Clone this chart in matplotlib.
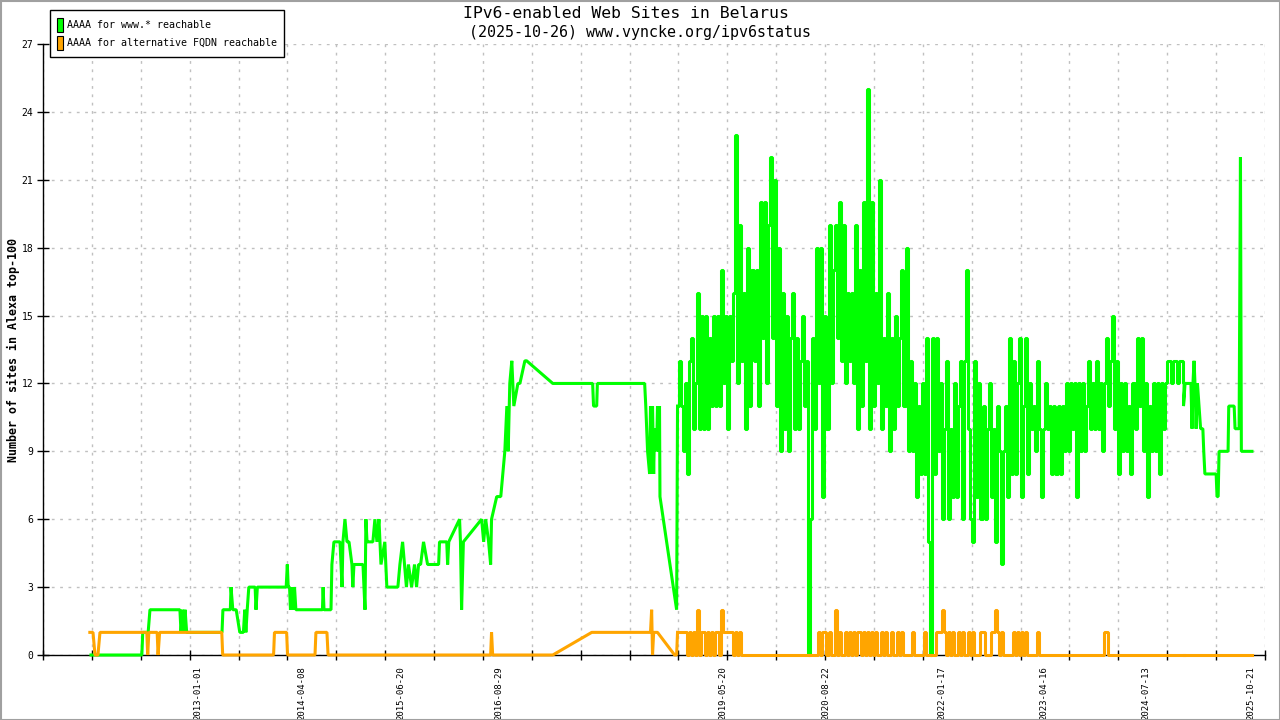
import numpy as np
import pandas as pd
import matplotlib
matplotlib.use('Agg')
import matplotlib.pyplot as plt
import matplotlib.dates as mdates
from matplotlib.patches import Rectangle

plt.rcParams['font.family'] = 'DejaVu Sans Mono'

# early part of "AAAA for www.*" series (irregular readings)
www_dates = [
    '2011-09-14', '2012-04-27', '2012-05-01', '2012-05-25', '2012-06-02',
    '2012-10-13', '2012-10-18', '2012-10-25', '2012-10-30', '2012-11-05', '2012-11-12', '2012-11-18',
    '2013-04-18', '2013-04-22', '2013-05-25', '2013-05-28', '2013-06-05', '2013-06-20', '2013-07-06', '2013-07-22', '2013-07-28', '2013-08-02', '2013-08-08', '2013-08-15',
    '2013-09-12', '2013-09-16', '2013-09-22', '2014-01-28', '2014-02-02', '2014-02-06', '2014-02-12', '2014-02-16', '2014-02-22', '2014-03-01', '2014-03-06', '2014-03-12',
    '2014-07-08', '2014-07-11', '2014-07-15', '2014-08-15', '2014-08-19', '2014-08-28',
    '2014-09-24', '2014-10-03', '2014-10-07', '2014-10-16', '2014-10-25', '2014-11-03', '2014-11-16', '2014-11-20', '2014-11-25',
    '2015-01-04', '2015-01-13', '2015-01-17', '2015-01-22', '2015-01-26', '2015-02-17', '2015-02-26', '2015-03-07', '2015-03-16', '2015-03-25', '2015-04-11', '2015-04-20',
    '2015-06-08', '2015-06-17', '2015-06-29', '2015-07-16', '2015-07-25', '2015-08-08', '2015-08-21', '2015-08-30', '2015-09-08', '2015-09-17', '2015-09-30', '2015-10-18',
    '2015-12-06', '2015-12-10', '2016-01-11', '2016-01-15', '2016-01-20', '2016-03-08', '2016-03-12', '2016-03-17', '2016-03-25',
    '2016-06-14', '2016-06-23', '2016-07-02', '2016-07-15', '2016-07-24', '2016-07-28', '2016-08-20', '2016-09-07', '2016-09-16', '2016-09-25', '2016-10-04', '2016-10-10', '2016-10-17', '2016-10-26', '2016-11-04', '2016-11-22', '2016-12-01', '2016-12-23', '2016-12-31',
    '2017-04-26', '2017-10-20', '2017-10-24', '2017-11-07', '2017-11-10',
    '2018-06-08', '2018-06-13', '2018-06-17', '2018-06-21', '2018-06-30', '2018-07-04', '2018-07-09', '2018-07-13', '2018-07-18', '2018-07-22', '2018-07-31', '2018-08-04', '2018-08-09', '2018-08-13', '2018-08-15', '2018-10-28']
www_vals = [
    0, 0, 1, 1, 2,
    2, 1, 2, 1, 2, 1, 1,
    1, 2, 2, 3, 2, 2, 1, 1, 2, 1, 2, 3,
    3, 2, 3, 3, 4, 3, 3, 2, 3, 2, 3, 2,
    2, 3, 2, 2, 4, 5,
    5, 3, 5, 6, 5, 5, 4, 3, 4,
    4, 2, 6, 5, 5, 5, 6, 5, 6, 4, 5, 3,
    3, 4, 5, 3, 4, 3, 4, 3, 4, 4, 5, 4,
    4, 5, 5, 4, 5, 6, 5, 2, 5,
    6, 5, 6, 5, 4, 6, 7, 7, 8, 9, 11, 9, 12, 13, 11, 12, 12, 13, 13,
    12, 12, 11, 11, 12,
    12, 11, 10, 9, 8, 11, 8, 11, 8, 10, 9, 11, 9, 11, 7, 2]

# dense part: one reading every 9 days from this date
dense_start = '2018-11-01'
dense_step = '9D'
www_dense = [
    11, 13, 11, 9, 12, 8, 13, 14, 10, 12,
    16, 10, 15, 10, 15, 10, 14, 11, 15, 11,
    15, 11, 17, 12, 15, 10, 15, 13, 16, 23,
    12, 19, 13, 16, 10, 18, 11, 17, 13, 17,
    11, 20, 14, 20, 12, 19, 22, 14, 21, 11,
    18, 9, 16, 10, 15, 9, 14, 16, 10, 14,
    10, 13, 15, 11, 13, 0, 6, 14, 10, 18,
    12, 18, 7, 15, 10, 19, 12, 17, 19, 14,
    20, 13, 19, 12, 16, 13, 16, 12, 19, 10,
    17, 11, 20, 13, 25, 10, 20, 11, 16, 12,
    21, 10, 14, 11, 16, 9, 14, 10, 15, 11,
    14, 17, 11, 18, 9, 13, 9, 12, 7, 11,
    8, 12, 8, 14, 5, 0, 14, 8, 14, 9,
    12, 6, 10, 13, 6, 10, 7, 12, 7, 11,
    13, 6, 13, 17, 10, 6, 5, 13, 7, 12,
    6, 11, 6, 10, 12, 7, 10, 5, 11, 9,
    4, 9, 11, 7, 14, 8, 13, 8, 12, 14,
    7, 11, 14, 8, 12, 10, 11, 9, 13, 10,
    7, 10, 12, 10, 11, 8, 11, 8, 11, 8,
    11, 9, 12, 9, 12, 10, 12, 7, 12, 9,
    12, 9, 11, 13, 10, 12, 10, 13, 10, 12,
    9, 12, 14, 11, 13, 15, 10, 13, 8, 12,
    9, 12, 9, 11, 8, 12, 10, 14, 11, 14,
    9, 12, 7, 11, 9, 12, 9, 12, 8, 12,
    10, 12, 13, 13, 12, 13, 13, 12, 13, 13,
    12]
nan = np.nan
fqdn_dense = [
    1, 1, 1, 1, 1, 0, 1, 0, 1, 0,
    2, 0, 1, 1, 0, 1, 0, 1, 0, 1,
    1, 0, 2, 1, 1, 1, 1, 1, 0, 1,
    0, 1, 0, 0, 0, 0, 0, 0, 0, 0,
    0, 0, 0, 0, 0, 0, 0, 0, 0, 0,
    0, 0, 0, 0, 0, 0, 0, 0, 0, 0,
    0, 0, 0, 0, 0, nan, 0, 0, 0, 0,
    1, 0, 1, 1, 0, 1, 0, 0, 2, 0,
    1, 0, 0, 1, 0, 1, 0, 1, 0, 1,
    1, 0, 1, 0, 1, 0, 1, 0, 1, 0,
    0, 1, 0, 1, 0, 0, 1, 0, 0, 1,
    0, 1, 0, 0, 0, 0, 1, 0, 0, 0,
    0, 0, 1, 0, 0, nan, 0, 0, 1, 1,
    1, 2, 1, 0, 1, 0, 1, 0, 0, 1,
    0, 1, 0, 0, 1, 0, 1, 0, 0, 0,
    1, 1, 0, 0, 0, 1, 1, 2, 1, 0,
    1, 0, 0, 0, 0, 0, 1, 0, 1, 0,
    1, 0, 1, 0, 0, 0, 0, 0, 1, 0] + [0] * 30 + [
    0, 1, 1, 0, 0, 0, 0, 0, 0, 0] + [0] * 31

# last months, step changes
www_tail_dates = ['2024-12-26', '2025-01-02', '2025-01-28', '2025-02-02', '2025-02-06', '2025-02-11', '2025-02-15',
                  '2025-02-20', '2025-02-26', '2025-03-05', '2025-03-12', '2025-03-22', '2025-03-26', '2025-03-31',
                  '2025-05-20', '2025-05-24', '2025-05-29', '2025-06-02', '2025-07-12', '2025-07-15', '2025-08-08',
                  '2025-08-12', '2025-08-30', '2025-09-02', '2025-09-05', '2025-09-09', '2025-10-26']
www_tail_vals = [11, 12, 12, 10, 12, 13, 12,
                 10, 12, 11, 10, 10, 9, 8,
                 8, 7, 7, 9, 9, 11, 11,
                 10, 10, 16, 22, 9, 9]

# early part of "AAAA for alternative FQDN" series
fqdn_dates = ['2011-09-09', '2011-09-23', '2011-10-02', '2011-10-15', '2011-10-24',
              '2012-05-19', '2012-05-23', '2012-05-28', '2012-07-04', '2012-07-08', '2012-07-15',
              '2013-04-17', '2013-04-21', '2013-12-03', '2013-12-07', '2014-01-30', '2014-02-03',
              '2014-06-05', '2014-06-09', '2014-07-28', '2014-08-02',
              '2016-07-24', '2016-07-28', '2016-08-02',
              '2017-04-26', '2017-10-16', '2018-07-04', '2018-07-09', '2018-07-13', '2018-07-18', '2018-08-04', '2018-10-19', '2018-10-28']
fqdn_vals = [1, 1, 0, 0, 1,
             1, 0, 1, 1, 0, 1,
             1, 0, 0, 1, 1, 0,
             0, 1, 1, 0,
             0, 1, 0,
             0, 1, 1, 2, 0, 1, 1, 0, 0]
fqdn_tail_dates = ['2025-10-26']
fqdn_tail_vals = [0]

label_dates = ['2013-01-01', '2014-04-08', '2015-06-20', '2016-08-29', '2019-05-20',
               '2020-08-22', '2022-01-17', '2023-04-16', '2024-07-13', '2025-10-21']
x_start, x_end = '2011-02-13', '2025-12-23'

GREEN = '#00ff00'
ORANGE = '#ffa500'

dense_idx = list(pd.date_range(dense_start, periods=len(www_dense), freq=dense_step))


def draw_series(ax, head_d, head_v, dense_v, tail_d, tail_v, color, z):
    # irregular head and tail joined by straight lines, daily-ish middle drawn as steps
    kw = dict(color=color, lw=2.2, solid_joinstyle='bevel', clip_on=False, zorder=z)
    ax.plot(list(pd.to_datetime(head_d)) + dense_idx[:1], list(head_v) + dense_v[:1], **kw)
    ax.plot(dense_idx, dense_v, drawstyle='steps-mid', **kw)
    ax.plot(dense_idx[-1:] + list(pd.to_datetime(tail_d)), dense_v[-1:] + list(tail_v), **kw)


fig = plt.figure(figsize=(12.8, 7.2), dpi=100)
ax = fig.add_axes([43 / 1280, 65 / 720, 1222 / 1280, 611 / 720])

draw_series(ax, www_dates, www_vals, www_dense, www_tail_dates, www_tail_vals, GREEN, 3)
draw_series(ax, fqdn_dates, fqdn_vals, fqdn_dense, fqdn_tail_dates, fqdn_tail_vals, ORANGE, 4)

x0 = mdates.date2num(pd.Timestamp(x_start))
x1 = mdates.date2num(pd.Timestamp(x_end))
ax.set_xlim(x0, x1)
ax.set_ylim(0, 27)
ax.set_yticks(range(0, 28, 3))
ax.set_xticks(np.linspace(x0, x1, 26))
ax.set_xticklabels([])
ax.set_xticks(mdates.date2num(pd.to_datetime(label_dates)), minor=True)
ax.set_xticklabels(label_dates, minor=True, rotation=90)

ax.tick_params(axis='y', direction='inout', length=8, width=1, labelsize=7, pad=3)
ax.tick_params(axis='x', which='major', direction='inout', length=7, width=1)
ax.tick_params(axis='x', which='minor', length=0, labelsize=6.5, pad=8)
ax.grid(True, which='major', color='#c0c0c0', linestyle=(0, (2, 4)), linewidth=1)
for s in ['top', 'right']:
    ax.spines[s].set_visible(False)
for s in ['left', 'bottom']:
    ax.spines[s].set_linewidth(1)

# overlay in pixel coordinates for title, label, legend and frame
ov = fig.add_axes([0, 0, 1, 1], facecolor='none')
ov.set_xlim(0, 1280)
ov.set_ylim(720, 0)
ov.axis('off')
ov.text(626, 13, 'IPv6-enabled Web Sites in Belarus', ha='center', va='center', fontsize=11.8)
ov.text(640, 32, '(2025-10-26) www.vyncke.org/ipv6status', ha='center', va='center', fontsize=10.8)
ov.text(13, 350, 'Number of sites in Alexa top-100', rotation=90, ha='center', va='center',
        fontsize=8.4, fontweight='bold')

ov.add_patch(Rectangle((50, 10), 234, 47, facecolor='white', edgecolor='black', lw=1))
ov.add_patch(Rectangle((56.5, 17.5), 6, 14, facecolor=GREEN, edgecolor='black', lw=0.8))
ov.add_patch(Rectangle((56.5, 35.5), 6, 14, facecolor=ORANGE, edgecolor='black', lw=0.8))
ov.text(67, 25, 'AAAA for www.* reachable', va='center', fontsize=7.2)
ov.text(67, 43, 'AAAA for alternative FQDN reachable', va='center', fontsize=7.2)
ov.add_patch(Rectangle((0.5, 0.5), 1279, 719, fill=False, edgecolor='#a0a0a0', lw=1.5))

plt.savefig('out.png', dpi=100)
